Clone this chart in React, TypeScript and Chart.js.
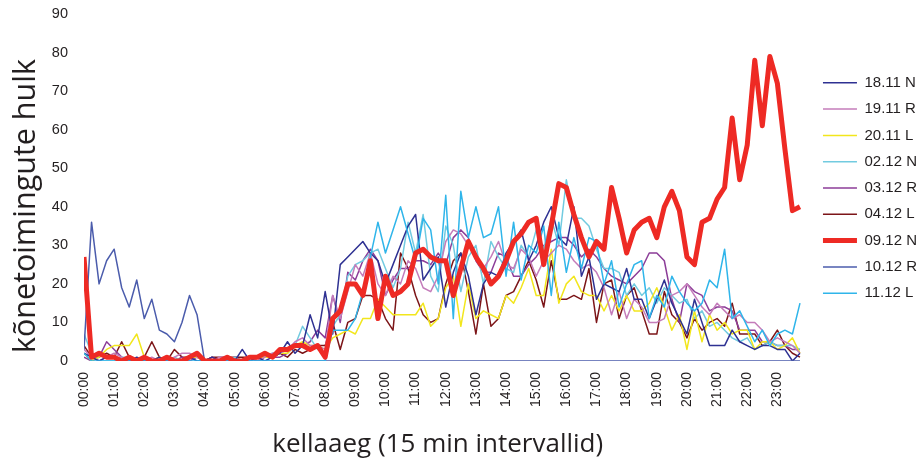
import React, { useEffect, useRef } from 'react';
import { Chart, registerables } from 'chart.js';

Chart.register(...registerables);

// ---- tick labels (every 4th 15-minute slot) ----
const hourLabels = [
  '00:00', '01:00', '02:00', '03:00', '04:00', '05:00', '06:00', '07:00',
  '08:00', '09:00', '10:00', '11:00', '12:00', '13:00', '14:00', '15:00',
  '16:00', '17:00', '18:00', '19:00', '20:00', '21:00', '22:00', '23:00',
];
const yMin = 0;
const yMax = 90;
const yStep = 10;

// ---- series (96 values, 15 min intervals) ----
const s1811N = [
  2, 1, 0, 1, 1, 0, 0, 1, 0, 0, 1, 0, 0, 0, 1, 0,
  0, 1, 0, 0, 0, 3, 0, 1, 0, 1, 2, 5, 2, 4, 12, 6,
  18, 7, 25, 27, 29, 31, 28, 26, 20, 25, 30, 35, 38, 21, 24, 27,
  14, 23, 28, 22, 12, 20, 23, 22, 28, 31, 34, 26, 30, 36, 40, 32,
  30, 40, 22, 27, 16, 20, 19, 18, 24, 16, 16, 11, 16, 21, 15, 11,
  7, 16, 10, 4, 4, 4, 8, 5, 4, 3, 4, 4, 3, 3, 0, 2,
];
const s1911R = [
  3, 1, 0, 1, 2, 1, 0, 0, 0, 1, 0, 0, 1, 2, 2, 1,
  0, 0, 1, 1, 0, 0, 1, 0, 1, 2, 2, 3, 5, 6, 4, 4,
  3, 17, 11, 18, 25, 22, 28, 20, 17, 22, 20, 26, 24, 19, 18, 22,
  31, 34, 33, 30, 27, 24, 27, 31, 25, 24, 29, 27, 22, 26, 28, 30,
  29, 26, 24, 25, 23, 19, 12, 18, 11, 16, 14, 10, 10, 11, 17, 18,
  20, 17, 14, 12, 15, 13, 11, 12, 10, 10, 8, 5, 6, 5, 4, 2,
];
const s2011L = [
  2, 0, 1, 3, 4, 4, 4, 7, 1, 0, 1, 0, 0, 0, 1, 1,
  0, 0, 0, 1, 0, 0, 1, 1, 1, 1, 2, 2, 4, 5, 4, 4,
  3, 6, 7, 8, 7, 11, 11, 16, 14, 12, 12, 12, 12, 15, 9, 11,
  19, 22, 9, 20, 11, 13, 12, 11, 17, 15, 19, 24, 17, 17, 29, 15,
  20, 22, 18, 17, 17, 13, 17, 13, 17, 13, 13, 15, 19, 14, 8, 12,
  3, 13, 5, 12, 8, 10, 7, 8, 8, 3, 5, 5, 3, 4, 6, 2,
];
const s0212N = [
  7, 2, 0, 0, 0, 1, 1, 0, 1, 0, 0, 0, 1, 0, 1, 0,
  0, 0, 0, 0, 1, 0, 0, 1, 1, 2, 2, 3, 4, 9, 6, 3,
  2, 9, 12, 22, 25, 26, 28, 29, 24, 19, 24, 36, 28, 38, 22, 18,
  35, 30, 18, 27, 30, 20, 31, 27, 24, 23, 30, 27, 34, 29, 37, 30,
  47, 37, 37, 35, 29, 24, 24, 23, 17, 20, 17, 19, 15, 19, 17, 15,
  16, 11, 13, 9, 10, 8, 6, 5, 6, 3, 4, 5, 4, 4, 4, 3,
];
const s0312R = [
  1, 0, 1, 5, 3, 1, 0, 0, 1, 0, 1, 0, 0, 1, 0, 1,
  0, 1, 0, 0, 1, 0, 1, 1, 2, 1, 1, 2, 4, 4, 5, 8,
  6, 17, 10, 23, 21, 26, 29, 26, 17, 21, 24, 24, 26, 26, 25, 28,
  25, 32, 34, 32, 26, 23, 23, 28, 27, 22, 22, 25, 27, 30, 31, 32,
  32, 30, 27, 29, 27, 24, 22, 21, 20, 22, 24, 28, 28, 26, 16, 10,
  20, 18, 17, 13, 14, 14, 13, 8, 8, 8, 5, 5, 4, 4, 3, 3,
];
const s0412L = [
  4, 1, 1, 2, 1, 5, 1, 0, 1, 5, 1, 0, 3, 1, 1, 1,
  0, 1, 1, 1, 1, 1, 1, 0, 1, 1, 2, 1, 3, 2, 3, 4,
  4, 10, 3, 10, 11, 17, 17, 16, 11, 8, 28, 24, 17, 12, 10, 11,
  20, 26, 28, 18, 7, 20, 9, 11, 17, 18, 22, 26, 21, 14, 26, 16,
  16, 17, 16, 24, 10, 20, 21, 11, 17, 19, 13, 7, 7, 18, 12, 10,
  6, 11, 8, 10, 11, 9, 15, 7, 7, 7, 4, 5, 8, 4, 2, 1,
];
const s0912N = [
  27, 1, 2, 1, 1, 0, 1, 0, 1, 0, 0, 1, 0, 0, 1, 2,
  0, 0, 0, 1, 0, 0, 1, 1, 2, 1, 3, 3, 4, 4, 3, 4,
  1, 11, 13, 20, 20, 17, 26, 11, 22, 17, 18, 20, 28, 29, 27, 26,
  26, 17, 24, 31, 27, 24, 20, 22, 26, 31, 33, 36, 37, 25, 35, 46,
  45, 38, 32, 27, 31, 29, 45, 37, 28, 34, 36, 37, 32, 40, 44, 39,
  27, 25, 36, 37, 42, 45, 63, 47, 56, 78, 61, 79, 72, 55, 39, 40,
];
const s1012R = [
  3, 36, 20, 26, 29, 19, 14, 21, 11, 16, 8, 7, 5, 10, 17, 12,
  0, 0, 0, 0, 0, 0, 0, 0, 0, 0, 0, 0, 0, 0, 0, 0,
  0, 0, 0, 0, 0, 0, 0, 0, 0, 0, 0, 0, 0, 0, 0, 0,
  0, 0, 0, 0, 0, 0, 0, 0, 0, 0, 0, 0, 0, 0, 0, 0,
  0, 0, 0, 0, 0, 0, 0, 0, 0, 0, 0, 0, 0, 0, 0, 0,
  0, 0, 0, 0, 0, 0, 0, 0, 0, 0, 0, 0, 0, 0, 0, 0,
];
const s1112L = [
  2, 0, 0, 0, 0, 0, 0, 0, 0, 0, 0, 0, 0, 0, 0, 0,
  0, 0, 0, 0, 0, 0, 0, 0, 0, 0, 0, 0, 0, 0, 0, 0,
  0, 8, 8, 8, 11, 18, 27, 36, 28, 34, 40, 33, 26, 37, 34, 20,
  43, 11, 44, 32, 40, 32, 33, 40, 22, 36, 21, 30, 28, 35, 17, 36,
  23, 32, 24, 32, 31, 20, 26, 14, 20, 25, 26, 11, 17, 14, 22, 18,
  15, 13, 15, 21, 19, 29, 11, 13, 9, 5, 8, 4, 7, 8, 7, 15,
];

const seriesNames = ['18.11 N', '19.11 R', '20.11 L', '02.12 N', '03.12 R', '04.12 L', '09.12 N', '10.12 R', '11.12 L'];
const seriesValues = [s1811N, s1911R, s2011L, s0212N, s0312R, s0412L, s0912N, s1012R, s1112L];
const seriesColors = ['#2e3192', '#c47cba', '#f2e61c', '#72cbe0', '#8c3d98', '#7c1518', '#ee2a24', '#4b5cac', '#2fb5ea'];
const seriesWidths = [1.5, 1.5, 1.5, 1.5, 1.5, 1.5, 5, 1.5, 1.5];
const seriesOrder = [3, 3, 3, 3, 3, 3, 0, 2, 1];

const TICK_FONT = "'Liberation Sans', Arial, sans-serif";
const TITLE_FONT = "'Open Sans', 'Noto Sans', sans-serif";
const TEXT_COLOR = '#231f20';

export default function App() {
  const ref = useRef<HTMLCanvasElement>(null);

  useEffect(() => {
    document.body.style.margin = '0';
    const canvas = ref.current;
    if (!canvas) return;
    const chart = new Chart(canvas, {
      type: 'line',
      data: {
        datasets: seriesNames.map((name, k) => ({
          label: name,
          data: seriesValues[k].map((v, i) => ({ x: i, y: v })),
          borderColor: seriesColors[k],
          backgroundColor: seriesColors[k],
          borderWidth: seriesWidths[k],
          pointRadius: 0,
          tension: 0,
          fill: false,
          order: seriesOrder[k],
          borderJoinStyle: 'round' as const,
        })),
      },
      options: {
        animation: false,
        responsive: false,
        devicePixelRatio: 1,
        layout: { padding: { top: 14, right: -7, bottom: 0, left: 0 } },
        plugins: {
          legend: {
            position: 'right',
            align: 'start',
            title: { display: true, text: '', font: { size: 10, lineHeight: 1 }, padding: { top: 0, bottom: 40 } },
            labels: {
              usePointStyle: true,
              pointStyle: 'line',
              pointStyleWidth: 34,
              padding: 11.3,
              color: TEXT_COLOR,
              font: { family: TICK_FONT, size: 15 },
              sort: (a: any, b: any) => a.datasetIndex - b.datasetIndex,
            },
          },
          tooltip: { enabled: false },
        },
        scales: {
          x: {
            type: 'linear',
            min: 0,
            max: 96.55,
            grid: { display: false, drawTicks: false },
            border: { display: false },
            afterBuildTicks: (axis: any) => {
              axis.ticks = hourLabels.map((_, k) => ({ value: k * 4 }));
            },
            afterFit: (s: any) => {
              s.height = 102;
              s.paddingTop = 0;
              s.paddingBottom = 0;
            },
            ticks: {
              autoSkip: false,
              minRotation: 90,
              maxRotation: 90,
              padding: 11,
              color: TEXT_COLOR,
              font: { family: TICK_FONT, size: 14 },
              callback: (v: any) => hourLabels[Math.round(Number(v) / 4)] ?? '',
            },
            title: {
              display: true,
              text: 'kellaaeg (15 min intervallid)   ',
              color: TEXT_COLOR,
              font: { family: TITLE_FONT, size: 26 },
              padding: { top: 0, bottom: 3 },
            },
          },
          y: {
            min: yMin,
            max: yMax,
            grid: { display: false, drawTicks: false },
            border: { display: false },
            afterFit: (s: any) => {
              s.width = 84;
              s.paddingTop = 0;
              s.paddingBottom = 0;
            },
            ticks: {
              stepSize: yStep,
              padding: 16,
              color: TEXT_COLOR,
              font: { family: TICK_FONT, size: 14.5 },
            },
            title: {
              display: true,
              align: 'start',
              text: ' kõnetoimingute hulk',
              color: TEXT_COLOR,
              font: { family: TITLE_FONT, size: 30.5 },
              padding: { top: 8, bottom: 0 },
            },
          },
        },
      },
    });
    return () => chart.destroy();
  }, []);

  return (
    <div style={{ width: 920, height: 463 }}>
      <canvas ref={ref} width={920} height={463} style={{ display: 'block' }} />
    </div>
  );
}
